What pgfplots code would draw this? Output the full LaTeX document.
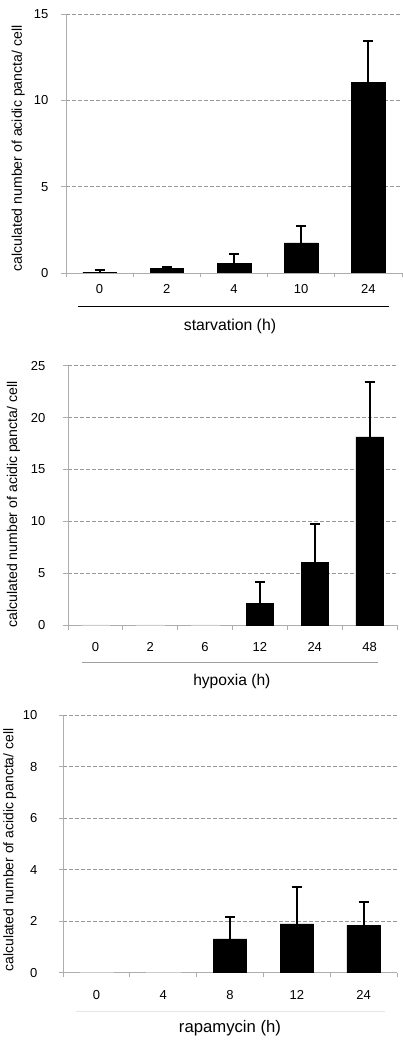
\documentclass[border=0pt]{standalone}
\usepackage{pgfplots}
\pgfplotsset{compat=1.18}
\usepackage{fontspec}
\setmainfont{Liberation Sans}
\definecolor{axgray}{gray}{0.68}
\definecolor{gridgray}{gray}{0.6}
\pgfplotsset{
  mybar/.style={
    scale only axis, anchor=south west,
    axis x line*=bottom, axis y line*=left,
    axis line style={axgray, line width=0.9pt, -},
    ymin=0,
    ymajorgrids,
    major grid style={gridgray, dash pattern=on 4pt off 2pt, line width=0.8pt},
    tick align=outside,
    major tick style={axgray, line width=0.9pt},
    major tick length=4.5pt,
    /pgf/number format/assume math mode=true,
    ticklabel style={font=\fontsize{13}{15}\selectfont},
    yticklabel style={anchor=east, inner sep=0pt},
    xticklabels={},
    extra x tick style={major tick length=0pt, xticklabel style={anchor=center, inner sep=0pt}},
    ylabel={calculated number of acidic pancta/ cell},
    ybar,
    bar width=0.5,
    every axis plot/.append style={bar shift=0pt},
  },
  blk/.style={fill=black, draw=black, line width=0.5pt,
    error bars/y dir=plus, error bars/y explicit,
    error bars/error mark=|,
    error bars/error bar style={line width=2pt, black},
    error bars/error mark options={line width=2pt, mark size=5pt, black}},
  zer/.style={fill=gray!40, draw=gray!40, line width=0.4pt},
}
\begin{document}
\begin{tikzpicture}[x=1pt,y=1pt]
\useasboundingbox (0,0) rectangle (402,1043);
% ---------- starvation ----------
\begin{axis}[mybar, at={(66pt,770pt)}, width=336pt, height=259pt,
  xmin=-0.5, xmax=4.5, ymax=15, ytick={0,5,10,15},
  xtick={-0.5,0.5,1.5,2.5,3.5,4.5},
  extra x ticks={0,1,2,3,4}, extra x tick labels={0,2,4,10,24},
  yticklabel style={xshift=-13pt},
  xticklabel style={yshift=-16pt},
  ylabel style={at={(axis description cs:-0.142,0.48)}, anchor=center, font=\fontsize{14.1}{16}\selectfont},
  xlabel={starvation (h)},
  xlabel style={at={(axis description cs:0.488,0)}, anchor=center, yshift=-53pt, font=\fontsize{15.8}{18}\selectfont},
]
\addplot[blk] coordinates {(0,0.05) +- (0,0.10) (1,0.28) +- (0,0.05) (2,0.56) +- (0,0.52) (3,1.75) +- (0,0.99) (4,11.02) +- (0,2.43)};
\end{axis}
\draw[black, line width=0.6pt] (78,737) -- (389,737);
% ---------- hypoxia ----------
\begin{axis}[mybar, at={(68pt,417.7pt)}, width=329pt, height=259.7pt,
  xmin=-0.5, xmax=5.5, ymax=25, ytick={0,5,10,15,20,25},
  xtick={-0.5,0.5,1.5,2.5,3.5,4.5,5.5},
  extra x ticks={0,1,2,3,4,5}, extra x tick labels={0,2,6,12,24,48},
  yticklabel style={xshift=-18pt},
  xticklabel style={yshift=-21.4pt},
  ylabel style={at={(axis description cs:-0.166,0.465)}, anchor=center, font=\fontsize{14.1}{16}\selectfont},
  xlabel={hypoxia (h)},
  xlabel style={at={(axis description cs:0.498,0)}, anchor=center, yshift=-56.4pt, font=\fontsize{15.6}{18}\selectfont},
]
\addplot[zer] coordinates {(0,0.03) (1,0.03) (2,0.03)};
\addplot[blk] coordinates {(3,2.12) +- (0,2.02) (4,6.03) +- (0,3.75) (5,18.15) +- (0,5.25)};
\end{axis}
\draw[gray!75, line width=0.6pt] (82,380.3) -- (378,380.3);
% ---------- rapamycin ----------
\begin{axis}[mybar, at={(63pt,70.3pt)}, width=334pt, height=257.7pt,
  xmin=-0.5, xmax=4.5, ymax=10, ytick={0,2,4,6,8,10},
  xtick={-0.5,0.5,1.5,2.5,3.5,4.5},
  extra x ticks={0,1,2,3,4}, extra x tick labels={0,4,8,12,24},
  yticklabel style={xshift=-21pt},
  xticklabel style={yshift=-22.3pt},
  ylabel style={at={(axis description cs:-0.159,0.476)}, anchor=center, font=\fontsize{13.9}{16}\selectfont},
  xlabel={rapamycin (h)},
  xlabel style={at={(axis description cs:0.5,0)}, anchor=center, yshift=-55.3pt, font=\fontsize{16.7}{19}\selectfont},
]
\addplot[zer] coordinates {(0,0.02) (1,0.02)};
\addplot[blk] coordinates {(2,1.31) +- (0,0.84) (3,1.89) +- (0,1.45) (4,1.85) +- (0,0.91)};
\end{axis}
\draw[gray!20, line width=0.8pt] (76,31.3) -- (385,31.3);
\end{tikzpicture}
\end{document}
